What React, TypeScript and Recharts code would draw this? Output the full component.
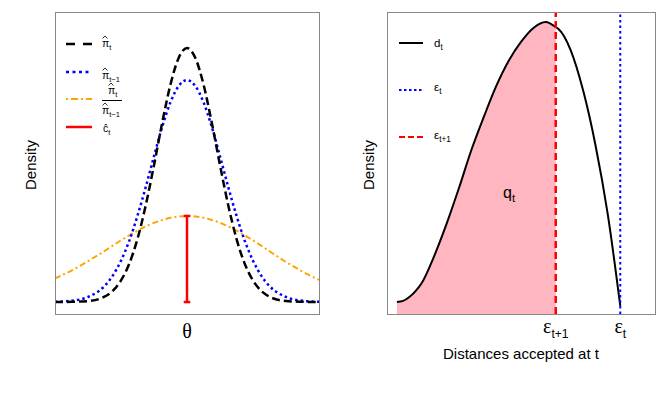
import React from "react"
import { ComposedChart, Line, Area, XAxis, YAxis, ReferenceLine } from "recharts"

// left panel: densities over theta
const THETA = [-4, -3.5, -3, -2.5, -2.25, -2, -1.75, -1.5, -1.25, -1, -0.75, -0.5, -0.25, 0, 0.25, 0.5, 0.75, 1, 1.25, 1.5, 1.75, 2, 2.25, 2.5, 3, 3.5, 4]
const PI_T = [0, 0.001, 0.004, 0.021, 0.044, 0.085, 0.151, 0.249, 0.381, 0.539, 0.707, 0.857, 0.962, 1.0, 0.962, 0.857, 0.707, 0.539, 0.381, 0.249, 0.151, 0.085, 0.044, 0.021, 0.004, 0.001, 0]
const PI_PREV = [0.001, 0.005, 0.02, 0.063, 0.104, 0.163, 0.241, 0.34, 0.453, 0.574, 0.69, 0.787, 0.851, 0.874, 0.851, 0.787, 0.69, 0.574, 0.453, 0.34, 0.241, 0.163, 0.104, 0.063, 0.02, 0.005, 0.001]
const RATIO = [0.093, 0.124, 0.161, 0.201, 0.222, 0.243, 0.263, 0.281, 0.298, 0.312, 0.323, 0.332, 0.337, 0.339, 0.337, 0.332, 0.323, 0.312, 0.298, 0.281, 0.263, 0.243, 0.222, 0.2, 0.158, 0.12, 0.087]
const C_HAT = 0.339
const CAP = 0.1

// right panel: distances accepted at t
const DIST = [0, 0.25, 0.5, 0.75, 1, 1.5, 2, 2.5, 3, 3.5, 4, 4.5, 5, 5.5, 6, 6.4, 6.5, 7, 7.5, 8, 8.5, 9]
const D_T = [0, 0.004, 0.018, 0.039, 0.068, 0.164, 0.279, 0.407, 0.543, 0.661, 0.771, 0.861, 0.929, 0.979, 1.0, 0.982, 0.976, 0.9, 0.757, 0.561, 0.311, -0.014]
const EPS_NEXT = 6.4
const EPS_NOW = 9
const EPS_TICKS = [EPS_NEXT, EPS_NOW]
const EPS_SUBS = ["t+1", "t"]

const leftData = THETA.map((x, i) => ({ x, pi: PI_T[i], prev: PI_PREV[i], ratio: RATIO[i] }))
const rightData = DIST.map((x, i) => ({ x, d: D_T[i], q: x <= EPS_NEXT ? D_T[i] : null }))

const SANS = "Liberation Sans, Arial, sans-serif"
const SERIF = "Liberation Serif, serif"

function EpsTick({ x, y, payload }: any) {
  const i = EPS_TICKS.indexOf(payload.value)
  return (
    <text x={x} y={y} textAnchor="middle" fill="#000">
      <tspan fontFamily={SERIF} fontSize={20} dy={19}>ε</tspan>
      <tspan fontFamily={SANS} fontSize={12} dy={5}>{EPS_SUBS[i]}</tspan>
    </text>
  )
}

// plotmath style hat: drawn as a small chevron over the glyph
function HatLabel({ x, y, base, sub }: any) {
  return (
    <g fontFamily={SANS} fill="#000">
      <polyline points={`${x + 0.5},${y - 8.5} ${x + 3},${y - 11} ${x + 5.5},${y - 8.5}`} fill="none" stroke="#000" strokeWidth={0.8} />
      <text x={x} y={y} fontSize={10.5}>
        {base}
        <tspan fontSize={7.5} dy={2.5}>{sub}</tspan>
      </text>
    </g>
  )
}

function SubLabel({ x, y, base, sub, size, font }: any) {
  return (
    <text x={x} y={y} fontSize={size} fontFamily={font || SANS} fill="#000">
      {base}
      <tspan fontFamily={SANS} fontSize={size * 0.72} dy={size * 0.28}>{sub}</tspan>
    </text>
  )
}

export default function App() {
  return (
    <div style={{ position: "absolute", left: 0, top: 0, width: 664, height: 395, background: "#fff" }}>
      <div style={{ position: "absolute", left: 0, top: 0 }}>
        <ComposedChart width={330} height={395} data={leftData} margin={{ top: 12, right: 11, bottom: 81, left: 55 }}>
          <XAxis dataKey="x" type="number" domain={[-4, 4]} hide allowDataOverflow />
          <YAxis type="number" domain={[-0.047, 1.142]} hide allowDataOverflow />
          <Line dataKey="ratio" type="monotone" stroke="#FFA500" strokeWidth={2} strokeDasharray="6 3 2 3" dot={false} isAnimationActive={false} />
          <Line dataKey="prev" type="monotone" stroke="#0000FF" strokeWidth={2.5} strokeDasharray="2.5 3" dot={false} isAnimationActive={false} />
          <Line dataKey="pi" type="monotone" stroke="#000" strokeWidth={2.5} strokeDasharray="8 4" dot={false} isAnimationActive={false} />
          <ReferenceLine segment={[{ x: 0, y: 0 }, { x: 0, y: C_HAT }]} stroke="#FF0000" strokeWidth={2.5} />
          <ReferenceLine segment={[{ x: -CAP, y: 0 }, { x: CAP, y: 0 }]} stroke="#FF0000" strokeWidth={2.5} />
          <ReferenceLine segment={[{ x: -CAP, y: C_HAT }, { x: CAP, y: C_HAT }]} stroke="#FF0000" strokeWidth={2.5} />
        </ComposedChart>
      </div>
      <div style={{ position: "absolute", left: 330, top: 0 }}>
        <ComposedChart width={334} height={395} data={rightData} margin={{ top: 12, right: 9, bottom: 0, left: 57 }}>
          <XAxis
            dataKey="x"
            type="number"
            domain={[-0.4, 10.4]}
            allowDataOverflow
            ticks={EPS_TICKS}
            interval={0}
            tick={<EpsTick />}
            tickLine={false}
            axisLine={false}
            tickSize={0}
            tickMargin={0}
            height={81}
          />
          <YAxis type="number" domain={[-0.043, 1.036]} hide allowDataOverflow />
          <Area dataKey="q" type="monotone" baseValue="dataMin" fill="#FFB6C1" fillOpacity={1} stroke="none" isAnimationActive={false} />
          <Line dataKey="d" type="monotone" stroke="#000" strokeWidth={2} dot={false} isAnimationActive={false} />
          <ReferenceLine x={EPS_NEXT} stroke="#FF0000" strokeWidth={2.5} strokeDasharray="7 4" />
          <ReferenceLine x={EPS_NOW} stroke="#0000FF" strokeWidth={2} strokeDasharray="2.5 3" />
        </ComposedChart>
      </div>
      <svg width={664} height={395} style={{ position: "absolute", left: 0, top: 0, pointerEvents: "none" }} fontFamily={SANS}>
        <rect x={55.5} y={12.5} width={264} height={302} fill="none" stroke="#888" />
        <rect x={387.5} y={12.5} width={268} height={302} fill="none" stroke="#888" />

        <text transform="translate(30,165) rotate(-90)" textAnchor="middle" dominantBaseline="central" fontSize={15} fill="#000">Density</text>
        <text transform="translate(368,165) rotate(-90)" textAnchor="middle" dominantBaseline="central" fontSize={15} fill="#000">Density</text>
        <text x={187} y={338} textAnchor="middle" fontFamily={SERIF} fontSize={20} fill="#000">θ</text>
        <text x={521} y={359} textAnchor="middle" fontSize={15} fill="#000">Distances accepted at t</text>

        {/* left legend */}
        <line x1={66} x2={92} y1={44} y2={44} stroke="#000" strokeWidth={2.5} strokeDasharray="9 8" />
        <line x1={66} x2={92} y1={72} y2={72} stroke="#0000FF" strokeWidth={2.5} strokeDasharray="3 3.5" />
        <line x1={66} x2={92} y1={99} y2={99} stroke="#FFA500" strokeWidth={2} strokeDasharray="2 3 7 3" />
        <line x1={66} x2={92} y1={127} y2={127} stroke="#FF0000" strokeWidth={2.5} />
        <HatLabel x={102} y={47} base="π" sub="t" />
        <HatLabel x={102} y={79} base="π" sub="t−1" />
        <HatLabel x={108} y={94} base="π" sub="t" />
        <line x1={102} x2={122} y1={100.5} y2={100.5} stroke="#000" strokeWidth={1} />
        <HatLabel x={102} y={114} base="π" sub="t−1" />
        <SubLabel x={103} y={132} base="ĉ" sub="t" size={10.5} />

        {/* right legend */}
        <line x1={399} x2={423} y1={43} y2={43} stroke="#000" strokeWidth={2} />
        <line x1={399} x2={423} y1={90} y2={90} stroke="#0000FF" strokeWidth={2} strokeDasharray="2.5 2.5" />
        <line x1={399} x2={423} y1={137} y2={137} stroke="#FF0000" strokeWidth={2} strokeDasharray="6 3" />
        <SubLabel x={434} y={47} base="d" sub="t" size={11.5} />
        <SubLabel x={434} y={91} base="ε" sub="t" size={11.5} />
        <SubLabel x={434} y={139} base="ε" sub="t+1" size={11.5} />

        <SubLabel x={503} y={198} base="q" sub="t" size={16} />
      </svg>
    </div>
  )
}
